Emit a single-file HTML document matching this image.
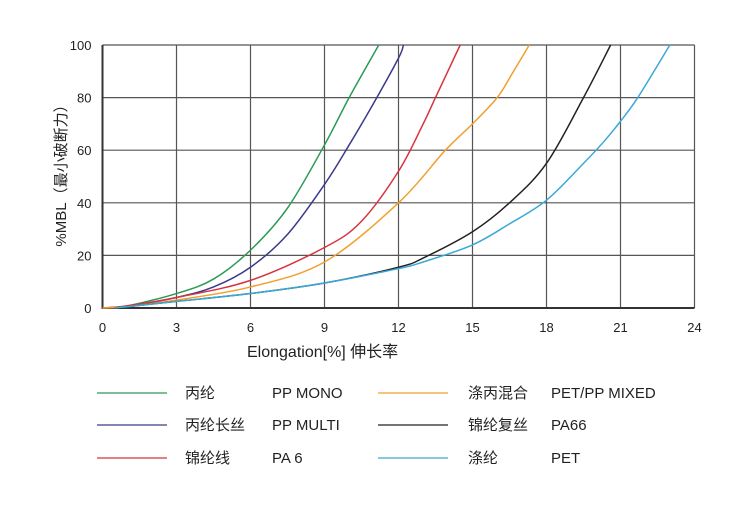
<!DOCTYPE html>
<html><head><meta charset="utf-8"><style>
body{margin:0;background:#fff;width:744px;height:501px;overflow:hidden;font-family:"Liberation Sans","Noto Sans CJK SC",sans-serif}
</style></head><body>
<svg width="744" height="501" id="c" font-family="Liberation Sans, Noto Sans CJK SC, sans-serif"></svg>
<script>
const xTicks=[0,3,6,9,12,15,18,21,24];
const yTicks=[0,20,40,60,80,100];
const seriesNames=["pp-mono","pp-multi","pa6","pet-pp-mixed","pa66","pet"];
const colors=["#2a9a55","#3a3a8c","#d8323f","#f0a030","#222222","#3aa8d8"];
const greenX=[0,1,3,4.5,6,7.5,9,10,11.2];
const greenY=[0,0.8,5.5,11,22,38,62,80,100];
const blueX=[0,1,3,4.5,6,7.5,9,10,11,12,12.2];
const blueY=[0,0.7,4,8,15.5,28,47,62,78,95,100];
const redX=[0,1,3,6,9,10.5,12,13,13.5,14.5];
const redY=[0,0.8,4,10.5,23,33,52,70,80,100];
const orangeX=[0,1,3,6,9,12,13.9,15,16,16.6,17.3];
const orangeY=[0,0.5,3,8,17.5,40,60,70,80,89,100];
const blackX=[0.5,3,6,9,12,13,15,16.5,18,19.5,20.6];
const blackY=[0,2.5,5.5,9.5,15.5,19,29,40,55,80,100];
const cyanX=[0.5,3,6,9,12,13,15,16.5,18,19.5,20.3,21,21.7,23];
const cyanY=[0,2.5,5.5,9.5,15,17.5,24,32,41,55,63,71,80,100];
const allX=[greenX,blueX,redX,orangeX,blackX,cyanX];
const allY=[greenY,blueY,redY,orangeY,blackY,cyanY];
const legendCn=["丙纶","丙纶长丝","锦纶线","涤丙混合","锦纶复丝","涤纶"];
const legendEn=["PP MONO","PP MULTI","PA 6","PET/PP MIXED","PA66","PET"];

const X0=102.5,X1=694.5,Y0=308,Y1=45;
const sx=v=>X0+(v-0)/(24-0)*(X1-X0);
const sy=v=>Y0-(v-0)/(100-0)*(Y0-Y1);
const svg=document.getElementById('c');
const NS="http://www.w3.org/2000/svg";
function mk(t,a){const e=document.createElementNS(NS,t);for(const k in a)e.setAttribute(k,a[k]);svg.appendChild(e);return e;}
xTicks.forEach(v=>{
 const l=mk('line',{x1:sx(v),x2:sx(v),y1:Y1,y2:Y0,stroke:'#555','stroke-width':1.2});
 
 
 const t=mk('text',{x:sx(v),y:Y0+24,'text-anchor':'middle','font-size':13,fill:'#222'});t.textContent=v;
 
 
});
yTicks.forEach(v=>{
 const l=mk('line',{x1:X0,x2:X1,y1:sy(v),y2:sy(v),stroke:'#555','stroke-width':1.2});
 
 
 const t=mk('text',{x:X0-11,y:sy(v)+5,'text-anchor':'end','font-size':13,fill:'#222'});t.textContent=v;
 
 
});
const ax=mk('path',{d:`M${X0} ${Y1}V${Y0}H${X1}`,stroke:'#333','stroke-width':2,fill:'none'});


function smooth(px,py){let d=`M${px[0]} ${py[0]}`;for(let i=0;i<px.length-1;i++){const p0=[px[Math.max(i-1,0)],py[Math.max(i-1,0)]],p1=[px[i],py[i]],p2=[px[i+1],py[i+1]],p3=[px[Math.min(i+2,px.length-1)],py[Math.min(i+2,px.length-1)]];
 d+=` C${p1[0]+(p2[0]-p0[0])/6} ${p1[1]+(p2[1]-p0[1])/6} ${p2[0]-(p3[0]-p1[0])/6} ${p2[1]-(p3[1]-p1[1])/6} ${p2[0]} ${p2[1]}`;}return d;}
allX.forEach((xs,i)=>{
 const p=mk('path',{d:smooth(xs.map(sx),allY[i].map(sy)),stroke:colors[i],'stroke-width':1.5,fill:'none'});
 
 
});
const yl=mk('text',{transform:'translate(66,172) rotate(-90)','text-anchor':'middle','font-size':15,fill:'#222'});yl.textContent='%MBL（最小破断力）';


const xl=mk('text',{x:247,y:357,'font-size':16,fill:'#222'});xl.textContent='Elongation[%]  伸长率';


const rows=[393,425,458];
legendCn.forEach((c,i)=>{
 const col=i<3?0:1,r=i%3,y=rows[r];
 const lx=col?378:97,cx=col?468:185,ex=col?551:272;
 const l=mk('line',{x1:lx,x2:lx+70,y1:y,y2:y,stroke:colors[i],'stroke-width':1.3});
 
 
 const t1=mk('text',{x:cx,y:y+5,'font-size':15,fill:'#222'});t1.textContent=c;
 
 
 const t2=mk('text',{x:ex,y:y+5,'font-size':15,fill:'#222'});t2.textContent=legendEn[i];
 
 
});
</script>
</body></html>
